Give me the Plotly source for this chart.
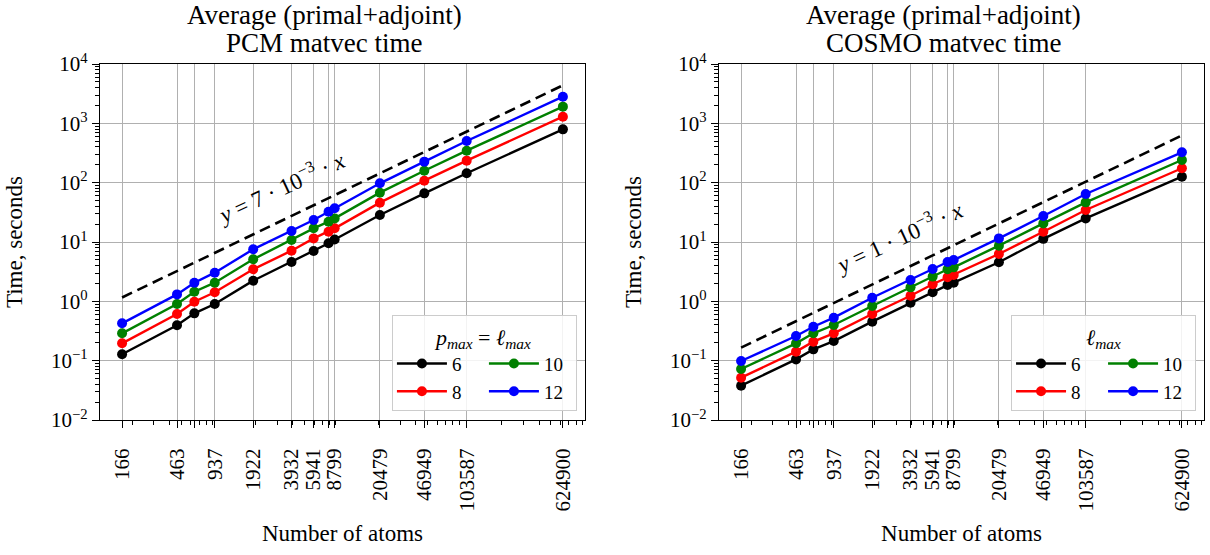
import plotly.graph_objects as go

# ---------------- data ----------------
atoms = [166, 463, 640, 937, 1922, 3932, 5941, 7850, 8799, 20479, 46949, 103587, 624900]
atom_labels = ["166", "463", "", "937", "1922", "3932", "5941", "", "8799",
               "20479", "46949", "103587", "624900"]
lmax = ["6", "8", "10", "12"]

pcm_6 = [0.128, 0.394, 0.627, 0.90, 2.23, 4.60, 7.05, 9.5, 11.0, 28.5, 66, 144, 792]
pcm_8 = [0.196, 0.611, 0.986, 1.42, 3.47, 7.14, 11.5, 14.9, 17.0, 46, 108, 235, 1295]
pcm_10 = [0.289, 0.90, 1.45, 2.06, 5.11, 10.8, 17.0, 22.0, 25.0, 67.8, 159, 346, 1910]
pcm_12 = [0.426, 1.31, 2.06, 3.04, 7.53, 15.3, 23.5, 32.4, 37.0, 97.5, 226, 503, 2810]

cosmo_6 = [0.0379, 0.105, 0.155, 0.214, 0.454, 0.948, 1.42, 1.88, 2.06, 4.55, 11.3, 25.0, 126]
cosmo_8 = [0.0517, 0.142, 0.209, 0.289, 0.611, 1.24, 1.94, 2.54, 2.78, 6.28, 14.9, 34.6, 175]
cosmo_10 = [0.0723, 0.196, 0.289, 0.399, 0.833, 1.72, 2.61, 3.47, 3.74, 8.67, 20.6, 46.6, 241]
cosmo_12 = [0.0986, 0.26, 0.373, 0.53, 1.15, 2.29, 3.51, 4.6, 4.97, 11.5, 27.4, 64.4, 325]

ref_x = [166, 624900]
pcm_coef = 7e-3
cosmo_coef = 1e-3

y_ticks = [1e-2, 1e-1, 1e0, 1e1, 1e2, 1e3, 1e4]
y_tick_labels = ["10<sup>−2</sup>", "10<sup>−1</sup>", "10<sup>0</sup>", "10<sup>1</sup>",
                 "10<sup>2</sup>", "10<sup>3</sup>", "10<sup>4</sup>"]

colors = ["black", "#ff0000", "#008000", "#0000ff"]
FONT = "Liberation Serif"

# ---------------- figure ----------------
fig = go.Figure()

panels = [
    ("x", "y", "legend", "pcm", [pcm_6, pcm_8, pcm_10, pcm_12], pcm_coef),
    ("x2", "y2", "legend2", "cosmo", [cosmo_6, cosmo_8, cosmo_10, cosmo_12], cosmo_coef),
]

for xa, ya, leg, name, series, coef in panels:
    fig.add_trace(go.Scatter(
        x=ref_x, y=[coef * v for v in ref_x], mode="lines",
        line=dict(color="black", width=2.6, dash="11px,6px"),
        showlegend=False, xaxis=xa, yaxis=ya, hoverinfo="skip"))
    for i, (lab, vals) in enumerate(zip(lmax, series)):
        fig.add_trace(go.Scatter(
            x=atoms, y=vals, mode="lines+markers", name=lab,
            line=dict(color=colors[i], width=2.4),
            marker=dict(color=colors[i], size=10),
            legendgroup=f"{name}_{'a' if i < 2 else 'b'}",
            legend=leg, xaxis=xa, yaxis=ya))

minor_y = [k * 10.0 ** e for e in range(-2, 4) for k in range(2, 10)]
minor_x = [k * 10.0 ** e for e in range(2, 6) for k in range(2, 10)]

axis_common = dict(
    type="log", showline=True, linecolor="black", linewidth=1.2, mirror=True,
    showgrid=True, gridcolor="#b0b0b0", gridwidth=1, automargin=False,
    ticks="outside", ticklen=7, tickwidth=1, tickcolor="black", zeroline=False,
)

xaxis_cfg = dict(
    axis_common, range=[2.041, 5.975], tickmode="array", tickvals=atoms, ticktext=atom_labels,
    tickangle=-90, ticklabelstandoff=12, tickfont=dict(family=FONT, size=21, color="black"),
    minor=dict(tickmode="array", tickvals=minor_x, ticks="outside", ticklen=4,
               tickwidth=1, tickcolor="black", showgrid=False),
    title=dict(text="Number of atoms", font=dict(family=FONT, size=23, color="black"), standoff=14),
)
yaxis_cfg = dict(
    axis_common, range=[-2, 4], tickmode="array", tickvals=y_ticks, ticktext=y_tick_labels,
    tickfont=dict(family=FONT, size=21, color="black"),
    minor=dict(tickmode="array", tickvals=minor_y, ticks="outside", ticklen=4,
               tickwidth=1, tickcolor="black", showgrid=False),
    title=dict(text="Time, seconds", font=dict(family=FONT, size=23, color="black"), standoff=22),
)

legend_common = dict(
    orientation="h", yanchor="bottom", y=0.025, xanchor="right",
    bgcolor="rgba(255,255,255,0.85)", bordercolor="#cccccc", borderwidth=1,
    font=dict(family=FONT, size=19, color="black"), itemwidth=50,
    entrywidth=27, entrywidthmode="pixels",
    traceorder="grouped", tracegroupgap=4,
)

dom1 = [0.0, 0.4393]
dom2 = [0.5607, 1.0]

fig.update_layout(
    width=1210, height=555,
    margin=dict(l=100, r=6, t=64, b=135),
    paper_bgcolor="white", plot_bgcolor="white",
    font=dict(family=FONT, color="black"),
    xaxis=dict(xaxis_cfg, domain=dom1, anchor="y"),
    yaxis=dict(yaxis_cfg, domain=[0, 1], anchor="x"),
    xaxis2=dict(xaxis_cfg, domain=dom2, anchor="y2"),
    yaxis2=dict(yaxis_cfg, domain=[0, 1], anchor="x2"),
    legend=dict(legend_common, x=0.432,
                title=dict(text="<i>p<sub>max</sub></i> = <i>ℓ<sub>max</sub></i>", side="top center",
                           font=dict(family=FONT, size=22, color="black"))),
    legend2=dict(legend_common, x=0.9928,
                 title=dict(text="<i>ℓ<sub>max</sub></i>", side="top center",
                            font=dict(family=FONT, size=22, color="black"))),
    showlegend=True,
)

# titles (two lines, placed separately for tight spacing)
for dom, txt in [(dom1, "PCM"), (dom2, "COSMO")]:
    for line, shift in [("Average (primal+adjoint)", 49), (f"{txt} matvec time", 21)]:
        fig.add_annotation(
            x=(dom[0] + dom[1]) / 2, y=1, xref="paper", yref="paper",
            xanchor="center", yanchor="middle", yshift=shift, xshift=-18, showarrow=False,
            text=line, font=dict(family=FONT, size=27, color="black"))

# reference-line labels
fig.add_annotation(x=3.51, y=1.94, xref="x", yref="y", showarrow=False, textangle=-25,
                   text="<i>y</i> = 7 · 10<sup>−3</sup> · <i>x</i>",
                   font=dict(family=FONT, size=23, color="black"))
fig.add_annotation(x=3.50, y=1.10, xref="x2", yref="y2", showarrow=False, textangle=-25,
                   text="<i>y</i> = 1 · 10<sup>−3</sup> · <i>x</i>",
                   font=dict(family=FONT, size=23, color="black"))

# remove the default page margin so the figure fills the window exactly
fig.write_html("out.html", config={"displayModeBar": False},
               post_script="document.body.style.margin='0';")
